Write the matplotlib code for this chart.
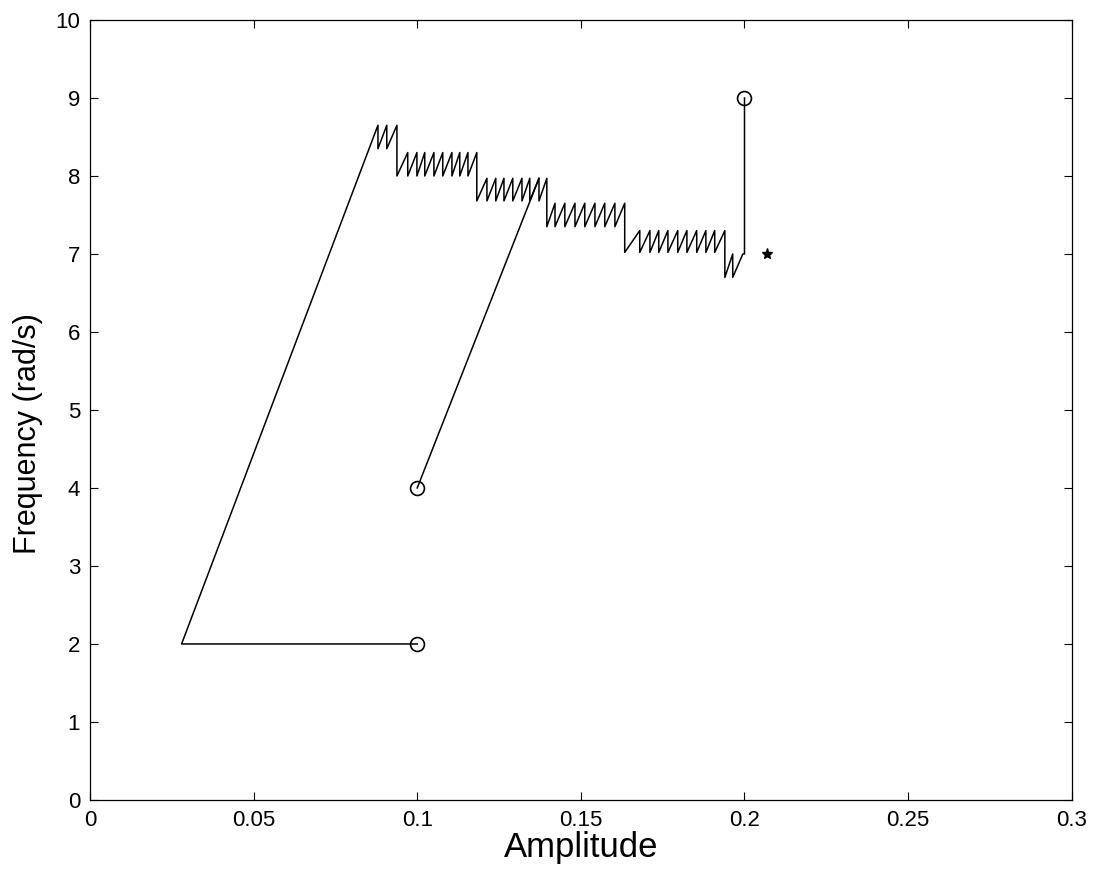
import numpy as np
import matplotlib
matplotlib.use('Agg')
import matplotlib.pyplot as plt

plt.rcParams['font.family'] = ['Liberation Sans', 'DejaVu Sans']

# START POINTS (circles)
start_x = [0.1, 0.1]
start_y = [2.0, 4.0]
end_x, end_y = 0.2, 9.0
star_x, star_y = 0.207, 7.0

# first trajectory: horizontal, then rising line
corner_x, corner_y = 0.028, 2.0
# second trajectory: rising line joining block 3
join_x, join_y = 0.1372, 7.97

# sawtooth blocks (high level, low level, x of each peak)
block_hi = [8.65, 8.30, 7.97, 7.65, 7.30, 7.00]
block_lo = [8.35, 8.00, 7.68, 7.35, 7.02, 6.70]
block_peaks = [
    [0.0880, 0.0907, 0.0938],
    [0.0971, 0.0999, 0.1023, 0.1051, 0.1078, 0.1106, 0.1130, 0.1155, 0.1182],
    [0.1213, 0.1240, 0.1265, 0.1292, 0.1320, 0.1344, 0.1372, 0.1396],
    [0.1421, 0.1451, 0.1482, 0.1512, 0.1543, 0.1573, 0.1604, 0.1634],
    [0.1680, 0.1711, 0.1738, 0.1766, 0.1796, 0.1824, 0.1854, 0.1882, 0.1909, 0.1940],
    [0.1964, 0.1995],
]

# build the path of trajectory 1
# each peak: rise to hi, then vertical drop to lo
# (to the next block's lo at the last peak of a block)
px = [start_x[0], corner_x]
py = [start_y[0], corner_y]
nb = len(block_peaks)
for b in range(nb):
    peaks = block_peaks[b]
    for i, xp in enumerate(peaks):
        px.append(xp)
        py.append(block_hi[b])
        if i < len(peaks) - 1:
            px.append(xp)
            py.append(block_lo[b])
        elif b < nb - 1:
            px.append(xp)
            py.append(block_lo[b + 1])
# over to the end point
px += [end_x, end_x]
py += [block_hi[-1], end_y]

fig = plt.figure(figsize=(10.97, 8.72), dpi=100)
ax = fig.add_axes([0.082, 0.0826, 0.895, 0.8945])

ax.plot(px, py, color='black', lw=1.1)
ax.plot([start_x[1], join_x], [start_y[1], join_y], color='black', lw=1.1)
ax.plot(start_x + [end_x], start_y + [end_y], 'o', mfc='none', mec='black', ms=10, mew=1.2)
ax.plot([star_x], [star_y], '*', color='black', ms=8)

ax.set_xlim(0, 0.3)
ax.set_ylim(0, 10)
ax.set_xticks([0, 0.05, 0.1, 0.15, 0.2, 0.25, 0.3])
ax.set_xticklabels(['0', '0.05', '0.1', '0.15', '0.2', '0.25', '0.3'])
ax.set_yticks(range(11))
ax.tick_params(direction='in', length=6, width=0.8, top=True, right=True, labelsize=16, pad=7)
for s in ax.spines.values():
    s.set_linewidth(0.9)

ax.set_xlabel('Amplitude', fontsize=25, labelpad=0)
ax.set_ylabel('Frequency (rad/s)', fontsize=22)
ax.yaxis.set_label_coords(-0.048, 0.47)

fig.savefig('out.png', dpi=100)
